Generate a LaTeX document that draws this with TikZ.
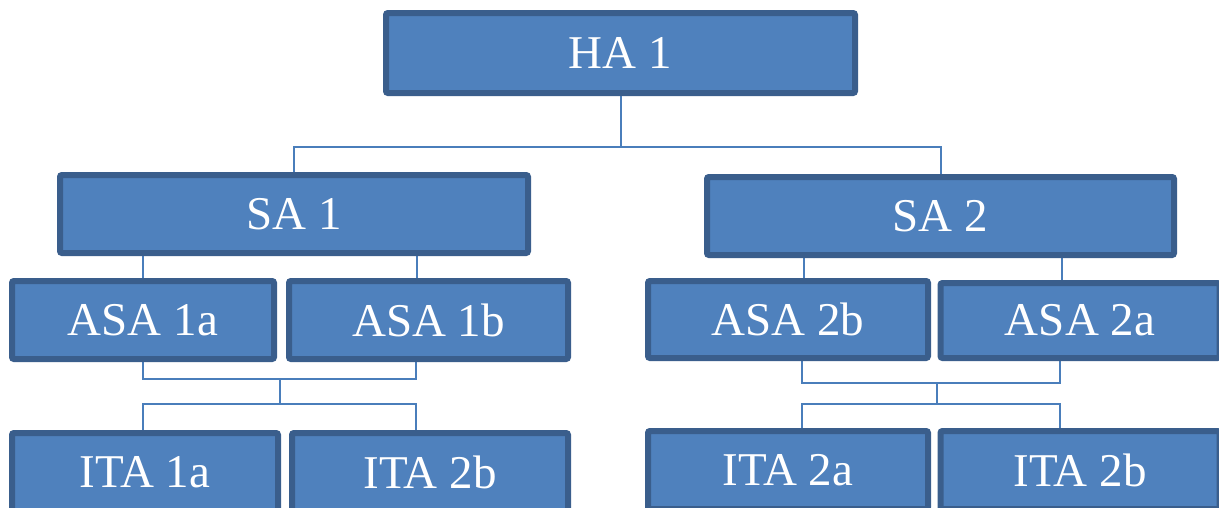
\documentclass[tikz,border=0pt]{standalone}
\usepackage{fontspec}
\setmainfont{Liberation Serif}
\usetikzlibrary{calc,backgrounds}
\definecolor{boxfill}{HTML}{4F81BD}
\definecolor{boxline}{HTML}{3A5E8C}
\definecolor{linkblue}{HTML}{4A7EBB}
\tikzset{
  unit/.style={draw=boxline, fill=boxfill, line width=6pt, rounded corners=2pt,
    text=white, inner sep=0pt, font=\fontsize{47}{52}\selectfont},
  link/.style={draw=linkblue, line width=2pt}
}
\begin{document}
\begin{tikzpicture}[x=1pt, y=-1pt]
\useasboundingbox (0,0) rectangle (1219,507);
\clip (0,0) rectangle (1219,507);

% top level
\node[unit, minimum width=469pt, minimum height=80pt] (HA1) at (620.5,53) {HA 1};

% second level
\node[unit, minimum width=468pt, minimum height=78pt] (SA1) at (294,214) {SA 1};
\node[unit, minimum width=467pt, minimum height=78pt] (SA2) at (940.5,216) {SA 2};

% third level
\node[unit, minimum width=262pt, minimum height=78pt] (ASA1a) at (143,320) {ASA 1a};
\node[unit, minimum width=279pt, minimum height=78pt] (ASA1b) at (428.5,320) {ASA 1b};
\node[unit, minimum width=280pt, minimum height=77pt] (ASA2b) at (788,319.5) {ASA 2b};
\node[unit, minimum width=279pt, minimum height=75pt] (ASA2a) at (1080,320.5) {ASA 2a};

% fourth level (runs past the lower edge)
\node[unit, minimum width=266pt, minimum height=78pt] (ITA1a) at (145,472) {ITA 1a};
\node[unit, minimum width=276pt, minimum height=78pt] (ITA2bl) at (430,472) {ITA 2b};
\node[unit, minimum width=280pt, minimum height=78pt] (ITA2a) at (788,470) {ITA 2a};
\node[unit, minimum width=279pt, minimum height=78pt] (ITA2br) at (1080,470) {ITA 2b};

% junction points
\coordinate (hbar) at (0,147);
\coordinate (u1) at (280,379);
\coordinate (d1) at (280,404);
\coordinate (u2) at (937,383);
\coordinate (d2) at (937,404);
\coordinate (s1b) at ($(ASA1b.north)+(-11.5,0)$);
\coordinate (s2b) at ($(ASA2b.north)+(16,0)$);
\coordinate (s2a) at ($(ASA2a.north)+(-18,0)$);

\begin{pgfonlayer}{background}
  \fill[white] (0,0) rectangle (1219,507);
  % HA 1 to SA 1 / SA 2
  \draw[link] (HA1.south) -- (HA1.south |- hbar) -| (SA1.north);
  \draw[link] (HA1.south |- hbar) -| (SA2.north);
  % SA 1 to its ASA boxes
  \draw[link] (ASA1a.north |- SA1.south) -- (ASA1a.north);
  \draw[link] (s1b |- SA1.south) -- (s1b);
  % SA 2 to its ASA boxes
  \draw[link] (s2b |- SA2.south) -- (s2b);
  \draw[link] (s2a |- SA2.south) -- (s2a);
  % ASA 1a/1b to ITA 1a/2b
  \draw[link] (ASA1a.south) |- (u1) -| ($(ASA1b.south)+(-12.5,0)$);
  \draw[link] (u1) -- (d1);
  \draw[link] ($(ITA1a.north)+(-2,0)$) |- (d1) -| ($(ITA2bl.north)+(-14,0)$);
  % ASA 2b/2a to ITA 2a/2b
  \draw[link] ($(ASA2b.south)+(14,0)$) |- (u2) -| ($(ASA2a.south)+(-20,0)$);
  \draw[link] (u2) -- (d2);
  \draw[link] ($(ITA2a.north)+(14,0)$) |- (d2) -| ($(ITA2br.north)+(-20,0)$);
\end{pgfonlayer}
\end{tikzpicture}
\end{document}
